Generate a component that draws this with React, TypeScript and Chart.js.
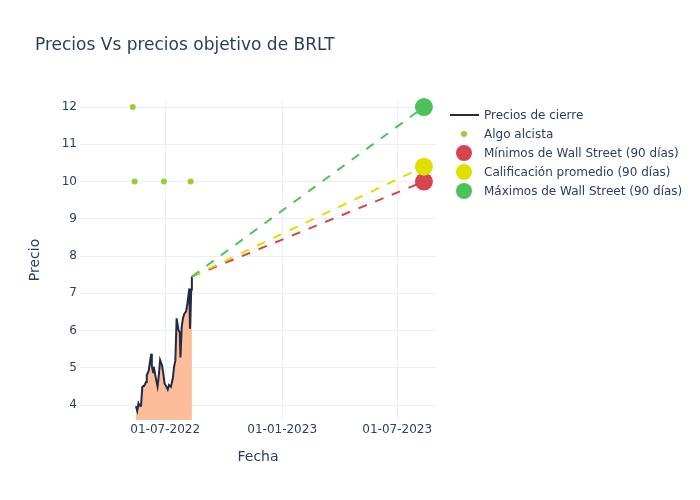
import React, { useEffect, useRef } from 'react';
import { Chart, registerables } from 'chart.js';

Chart.register(...registerables);

// ---- Data ----
const priceDates = [
  '2022-05-16', '2022-05-18', '2022-05-20', '2022-05-22', '2022-05-24', '2022-05-26',
  '2022-05-29', '2022-06-01', '2022-06-02', '2022-06-05', '2022-06-07', '2022-06-09',
  '2022-06-10', '2022-06-12', '2022-06-13', '2022-06-16', '2022-06-18', '2022-06-19',
  '2022-06-21', '2022-06-23', '2022-06-26', '2022-06-28', '2022-06-30', '2022-07-03',
  '2022-07-05', '2022-07-07', '2022-07-10', '2022-07-13', '2022-07-15', '2022-07-17',
  '2022-07-19', '2022-07-22', '2022-07-24', '2022-07-25', '2022-07-27', '2022-07-29',
  '2022-07-31', '2022-08-03', '2022-08-05', '2022-08-07', '2022-08-08', '2022-08-09',
  '2022-08-11', '2022-08-12',
];
const priceValues = [
  3.97, 3.85, 4.05, 3.98, 3.98, 4.49,
  4.52, 4.62, 4.8, 4.92, 5.15, 5.38,
  5.05, 4.88, 5.03, 4.75, 4.58, 4.5,
  4.8, 5.21, 5.07, 4.85, 4.58, 4.49,
  4.42, 4.54, 4.49, 4.72, 5.03, 5.2,
  6.33, 6.01, 5.95, 5.28, 6.1, 6.33,
  6.45, 6.52, 6.73, 7.0, 7.13, 6.05,
  7.1, 7.45,
];
const bullishDates = ['2022-05-11', '2022-05-14', '2022-06-29', '2022-08-10'];
const bullishValues = [12, 10, 10, 10];
const targetDate = '2023-08-12';
const targetLow = 10;
const targetAvg = 10.4;
const targetHigh = 12;
const xTickDates = ['2022-07-01', '2023-01-01', '2023-07-01'];
const yTickValues = [4, 5, 6, 7, 8, 9, 10, 11, 12];
const xRangeDates = ['2022-02-17', '2023-08-31'];
const yRange = [3.6, 12.19];

const seriesNames = [
  'Precios de cierre',
  'Algo alcista',
  'Mínimos de Wall Street (90 días)',
  'Calificación promedio (90 días)',
  'Máximos de Wall Street (90 días)',
];

// ---- Styles ----
const FONT = '"DejaVu Sans", Verdana, sans-serif';
const TEXT = '#2a3f5f';
const GRID = '#ebf0f8';
const PRICE = '#222b45';
const FILL = '#fcbe9a';
const BULL = '#9acd32';
const LOW = '#d6454f';
const AVG = '#dfdf00';
const HIGH = '#4cc25a';

const EPOCH = Date.UTC(2022, 0, 1);
const toDay = (s: string) => {
  const [y, m, d] = s.split('-').map(Number);
  return (Date.UTC(y, m - 1, d) - EPOCH) / 86400000;
};
const pad = (n: number) => (n < 10 ? '0' + n : '' + n);
const fmtDay = (day: number) => {
  const d = new Date(EPOCH + Math.round(day) * 86400000);
  return `${pad(d.getUTCDate())}-${pad(d.getUTCMonth() + 1)}-${d.getUTCFullYear()}`;
};

const legendPlugin = {
  id: 'customLegendTitle',
  afterDraw(chart: any) {
    const ctx = chart.ctx as CanvasRenderingContext2D;
    ctx.save();
    // title
    ctx.fillStyle = TEXT;
    ctx.font = `17px ${FONT}`;
    ctx.textBaseline = 'alphabetic';
    ctx.textAlign = 'left';
    ctx.fillText('Precios Vs precios objetivo de BRLT', 35, 50);

    // legend
    const items = [
      { kind: 'line', color: PRICE, r: 0 },
      { kind: 'dot', color: BULL, r: 3 },
      { kind: 'dot', color: LOW, r: 8 },
      { kind: 'dot', color: AVG, r: 8 },
      { kind: 'dot', color: HIGH, r: 8 },
    ];
    ctx.font = `12px ${FONT}`;
    ctx.textBaseline = 'middle';
    items.forEach((it, i) => {
      const y = 115 + i * 19;
      if (it.kind === 'line') {
        ctx.strokeStyle = it.color;
        ctx.lineWidth = 2;
        ctx.beginPath();
        ctx.moveTo(450, y);
        ctx.lineTo(479, y);
        ctx.stroke();
      } else {
        ctx.fillStyle = it.color;
        ctx.beginPath();
        ctx.arc(464, y, it.r, 0, Math.PI * 2);
        ctx.fill();
      }
      ctx.fillStyle = TEXT;
      ctx.fillText(seriesNames[i], 484, y + 0.5);
    });
    ctx.restore();
  },
};

export default function App() {
  const ref = useRef<HTMLCanvasElement | null>(null);

  useEffect(() => {
    if (!ref.current) return;
    const lastDay = toDay(priceDates[priceDates.length - 1]);
    const lastPrice = priceValues[priceValues.length - 1];
    const tDay = toDay(targetDate);
    const targetLine = (label: string, value: number, color: string, order: number) => ({
      type: 'line' as const,
      label,
      data: [
        { x: lastDay, y: lastPrice },
        { x: tDay, y: value },
      ],
      borderColor: color,
      backgroundColor: color,
      borderWidth: 2,
      borderDash: [9, 9],
      pointRadius: [0, 9],
      pointHoverRadius: [0, 9],
      pointBackgroundColor: color,
      pointBorderWidth: 0,
      fill: false,
      order,
      clip: false as any,
    });

    const chart = new Chart(ref.current, {
      type: 'line',
      data: {
        datasets: [
          {
            label: seriesNames[0],
            data: priceDates.map((d, i) => ({ x: toDay(d), y: priceValues[i] })),
            borderColor: PRICE,
            backgroundColor: FILL,
            borderWidth: 2,
            pointRadius: 0,
            fill: 'start',
            tension: 0,
            order: 5,
          },
          {
            type: 'scatter' as any,
            label: seriesNames[1],
            data: bullishDates.map((d, i) => ({ x: toDay(d), y: bullishValues[i] })),
            backgroundColor: BULL,
            borderWidth: 0,
            pointRadius: 3,
            showLine: false,
            order: 4,
          } as any,
          targetLine(seriesNames[2], targetLow, LOW, 3),
          targetLine(seriesNames[3], targetAvg, AVG, 2),
          targetLine(seriesNames[4], targetHigh, HIGH, 1),
        ] as any,
      },
      options: {
        responsive: false,
        animation: false,
        layout: { padding: { left: 0, top: 100, right: 264, bottom: 0 } },
        plugins: {
          legend: { display: false },
          title: { display: false },
          tooltip: { enabled: false },
        },
        scales: {
          x: {
            type: 'linear',
            min: toDay(xRangeDates[0]),
            max: toDay(xRangeDates[1]),
            afterBuildTicks: (scale: any) => {
              scale.ticks = xTickDates.map((d) => ({ value: toDay(d) }));
            },
            afterFit: (scale: any) => {
              scale.height = 80;
            },
            ticks: {
              callback: (v: any) => fmtDay(Number(v)),
              color: TEXT,
              font: { family: FONT, size: 12 },
              padding: 3,
              maxRotation: 0,
              autoSkip: false,
            },
            grid: { color: GRID, lineWidth: 1, drawTicks: false },
            border: { display: false },
            title: {
              display: true,
              text: 'Fecha',
              color: TEXT,
              font: { family: FONT, size: 14 },
              padding: { top: 0, bottom: 34 },
            },
          },
          y: {
            type: 'linear',
            min: yRange[0],
            max: yRange[1],
            afterBuildTicks: (scale: any) => {
              scale.ticks = yTickValues.map((v) => ({ value: v }));
            },
            afterFit: (scale: any) => {
              scale.width = 80;
            },
            ticks: {
              callback: (v: any) => String(v),
              color: TEXT,
              font: { family: FONT, size: 12 },
              padding: 3,
            },
            grid: { color: GRID, lineWidth: 1, drawTicks: false },
            border: { display: false },
            title: {
              display: true,
              text: 'Precio',
              color: TEXT,
              font: { family: FONT, size: 14 },
              padding: { top: 27, bottom: 0 },
            },
          },
        },
      },
      plugins: [legendPlugin],
    });
    return () => chart.destroy();
  }, []);

  return (
    <div style={{ position: 'absolute', left: 0, top: 0, width: 700, height: 500, background: '#fff' }}>
      <canvas ref={ref} width={700} height={500} style={{ display: 'block' }} />
    </div>
  );
}
